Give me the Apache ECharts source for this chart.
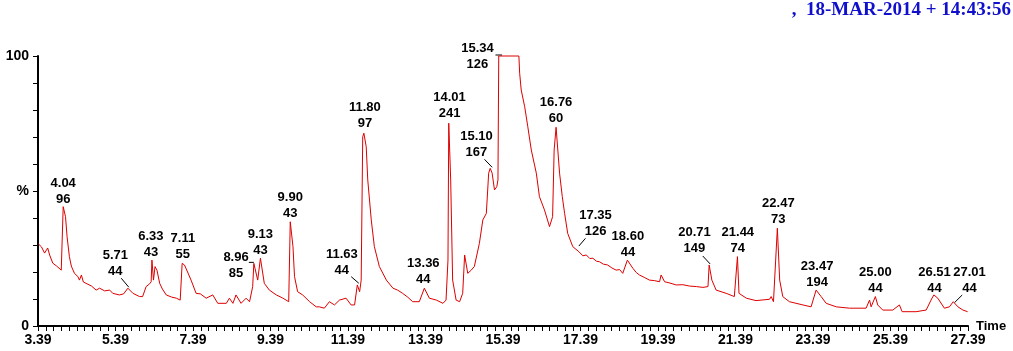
<!DOCTYPE html>
<html>
<head>
<meta charset="utf-8">
<script src="https://cdn.jsdelivr.net/npm/echarts@6/dist/echarts.min.js"></script>
<style>
html,body{margin:0;padding:0;background:#fff;}
#chart{width:1013px;height:351px;}
</style>
</head>
<body>
<div id="chart"></div>
<script>
// ---- data ----
const timeStart = 3.39;
const timeEnd = 27.39;
const titleText = ',  18-MAR-2014 + 14:43:56';

const traceTimes = [3.40,3.48,3.56,3.64,3.69,3.77,3.87,3.99,4.02,4.04,4.10,4.14,4.20,4.25,4.33,4.42,4.46,4.51,4.56,4.63,4.77,4.89,4.98,5.11,5.24,5.32,5.49,5.60,5.71,5.84,6.01,6.09,6.18,6.27,6.31,6.33,6.37,6.41,6.46,6.53,6.60,6.70,6.84,6.96,7.06,7.11,7.17,7.25,7.34,7.47,7.58,7.73,7.90,8.03,8.25,8.33,8.42,8.50,8.63,8.76,8.85,8.93,8.96,9.06,9.13,9.23,9.36,9.54,9.70,9.86,9.90,9.97,10.01,10.09,10.22,10.40,10.57,10.65,10.78,10.91,11.04,11.17,11.34,11.47,11.56,11.63,11.69,11.73,11.77,11.80,11.86,11.90,11.99,12.07,12.20,12.38,12.55,12.67,12.80,12.93,13.06,13.23,13.36,13.49,13.67,13.84,13.92,13.97,13.99,14.01,14.04,14.09,14.18,14.27,14.35,14.40,14.44,14.48,14.57,14.65,14.78,14.87,14.96,15.02,15.06,15.11,15.17,15.23,15.26,15.28,15.80,15.82,15.86,15.95,16.03,16.12,16.25,16.33,16.46,16.59,16.67,16.71,16.76,16.85,16.92,16.98,17.06,17.19,17.35,17.45,17.54,17.63,17.71,17.80,17.88,17.98,18.09,18.20,18.31,18.40,18.48,18.60,18.74,18.83,18.91,19.05,19.17,19.30,19.43,19.47,19.56,19.70,19.86,20.03,20.20,20.38,20.55,20.68,20.71,20.78,20.89,21.15,21.36,21.44,21.48,21.67,21.92,22.27,22.31,22.37,22.47,22.53,22.61,22.78,23.13,23.34,23.47,23.60,23.73,23.99,24.33,24.76,24.85,24.89,25.00,25.06,25.19,25.45,25.62,25.69,26.05,26.31,26.45,26.51,26.61,26.78,26.91,27.01,27.13,27.26,27.38];
const traceValues = [30.4,29.3,27.0,28.9,26.3,23.3,22.2,20.7,20.1,44.2,40.5,33.1,25.7,22.2,19.5,18.3,17.0,18.9,16.3,15.8,14.8,13.3,14.0,13.0,13.3,12.1,11.5,11.9,14.0,12.1,10.9,10.9,14.6,15.6,16.4,24.4,17.0,22.0,20.7,15.8,13.7,11.5,10.7,10.3,9.6,23.2,22.6,20.0,17.0,12.1,11.9,10.3,11.5,8.4,8.4,10.3,8.4,11.5,8.4,10.3,9.0,14.6,23.2,17.0,25.1,15.8,13.3,11.5,10.4,9.0,38.6,29.4,18.3,12.7,11.5,9.0,7.1,7.1,6.6,9.0,7.8,9.6,10.3,7.8,7.8,15.2,12.7,17.0,70.1,71.4,66.4,54.1,39.3,29.4,22.0,17.0,14.0,13.3,12.1,10.7,9.0,9.0,14.0,10.3,9.6,8.4,9.6,24.4,75.1,75.7,54.1,17.0,9.6,9.0,12.1,26.3,26.9,19.5,20.7,22.0,30.6,39.3,41.7,56.6,58.4,56.6,50.4,51.6,54.1,100,100,93.6,87.4,81.2,73.8,65.2,56.6,47.9,43.0,36.8,40.5,65.2,73.6,56.6,47.9,41.7,34.3,29.4,27.5,26.0,26.3,25.0,25.1,24.0,23.8,22.9,22.6,21.5,20.7,20.9,19.5,24.4,21.4,19.8,18.9,17.9,17.0,16.8,16.4,18.9,16.4,15.9,15.2,15.3,14.8,14.6,14.3,14.6,22.6,17.0,13.3,12.1,10.9,25.7,12.1,10.3,9.4,9.9,10.9,9.0,36.2,17.0,10.9,9.0,7.8,7.1,13.3,10.9,8.4,7.1,6.6,6.6,9.6,7.1,10.9,7.8,5.9,5.9,7.8,5.3,5.3,5.9,10.0,11.5,10.3,6.6,7.1,9.0,7.1,5.9,5.3];

const peakTimes  = ['4.04','5.71','6.33','7.11','8.96','9.13','9.90','11.63','11.80','13.36','14.01','15.10','15.34','16.76','17.35','18.60','20.71','21.44','22.47','23.47','25.00','26.51','27.01'];
const peakMasses = ['96','44','43','55','85','43','43','44','97','44','241','167','126','60','126','44','149','74','73','194','44','44','44'];
const peakValues = [44.2,14.0,24.4,23.2,23.2,25.1,38.6,15.2,71.4,14.0,75.7,58.4,100,73.6,27.5,24.4,22.6,25.7,36.2,13.3,10.9,11.5,9.0];

// ---- label placement (pixels relative to the peak point): [dx, dy of 2nd line centre, leader or null]
const labelPlacement = [
  [0,-7,null],
  [-12.6,-16.3,[-6.7,-10,0.9,-1]],
  [-1,-8,null],
  [0.7,-8.6,null],
  [-17.8,9.7,[-5,-1,0,-1]],
  [0,-8,null],
  [0,-8.4,null],
  [-15.5,-15,[-6.1,-8.3,1.5,-1.7]],
  [1,-9.3,null],
  [-1,-9,null],
  [0,-8.2,null],
  [-15.3,-16.3,[-7.3,-9,0.4,-1]],
  [-23.6,8.3,[-5.6,-1,1,-1]],
  [0,-9,null],
  [16.6,-20.4,[6.5,-13.4,-0.1,-5.7]],
  [0.5,-8,null],
  [-14.7,-16.3,[-6.4,-9,1,-1]],
  [0.4,-8,null],
  [1,-9,null],
  [1,-8,null],
  [0,-8.4,null],
  [0.6,-6.7,null],
  [16.2,-13.4,[8.9,-6.7,1.2,1]]
];

const FONT = '"Liberation Sans", Arial, sans-serif';
const traceData = traceTimes.map((t, i) => [t - timeStart, traceValues[i]]);
const peakData = peakTimes.map((t, i) => [parseFloat(t) - timeStart, peakValues[i]]);

const chart = echarts.init(document.getElementById('chart'), null, {renderer: 'canvas'});
chart.setOption({
  animation: false,
  backgroundColor: '#fff',
  graphic: [{
    type: 'text', right: 2, top: 1,
    style: {text: titleText, font: 'bold 19px "Liberation Serif", "Times New Roman", serif', fill: '#0f0fcc'}
  }],
  grid: {left: 38, right: 45, top: 56, bottom: 25, containLabel: false},
  xAxis: {
    type: 'value', min: 0, max: timeEnd - timeStart, interval: 2,
    axisLine: {lineStyle: {color: '#000', width: 2}},
    axisTick: {length: 5, lineStyle: {color: '#000', width: 1}},
    minorTick: {show: true, splitNumber: 10, length: 5, lineStyle: {color: '#000', width: 1}},
    splitLine: {show: false}, minorSplitLine: {show: false},
    axisLabel: {formatter: v => (v + timeStart).toFixed(2), color: '#000', fontWeight: 'bold', fontSize: 14, fontFamily: FONT, margin: 7},
    name: 'Time', nameLocation: 'end', nameGap: 8,
    nameTextStyle: {color: '#000', fontWeight: 'bold', fontSize: 13, fontFamily: FONT, verticalAlign: 'middle'}
  },
  yAxis: {
    type: 'value', min: 0, max: 100, interval: 10,
    axisLine: {show: true, lineStyle: {color: '#000', width: 2}},
    axisTick: {show: true, length: 5, lineStyle: {color: '#000', width: 1}},
    splitLine: {show: false},
    axisLabel: {formatter: v => v === 100 ? '100' : v === 50 ? '%' : v === 0 ? '0' : '', color: '#000', fontWeight: 'bold', fontSize: 14, fontFamily: FONT, margin: 9}
  },
  series: [{
    type: 'line', data: traceData, showSymbol: false, symbol: 'none',
    lineStyle: {color: '#dd0000', width: 1}, clip: false, silent: true
  }, {
    type: 'custom', data: peakData, clip: false, silent: true,
    renderItem: function (params, api) {
      const i = params.dataIndex;
      const pt = api.coord([api.value(0), api.value(1)]);
      const pl = labelPlacement[i];
      const children = [{
        type: 'text',
        style: {
          text: peakTimes[i] + '\n' + peakMasses[i],
          x: pt[0] + pl[0], y: pt[1] + pl[1] + 8,
          align: 'center', verticalAlign: 'bottom',
          font: 'bold 13px ' + FONT, lineHeight: 16, fill: '#000'
        }
      }];
      if (pl[2]) {
        const l = pl[2];
        children.push({
          type: 'line',
          shape: {x1: pt[0] + l[0], y1: pt[1] + l[1], x2: pt[0] + l[2], y2: pt[1] + l[3]},
          style: {stroke: '#000', lineWidth: 1}
        });
      }
      return {type: 'group', children: children};
    }
  }]
});
</script>
</body>
</html>
